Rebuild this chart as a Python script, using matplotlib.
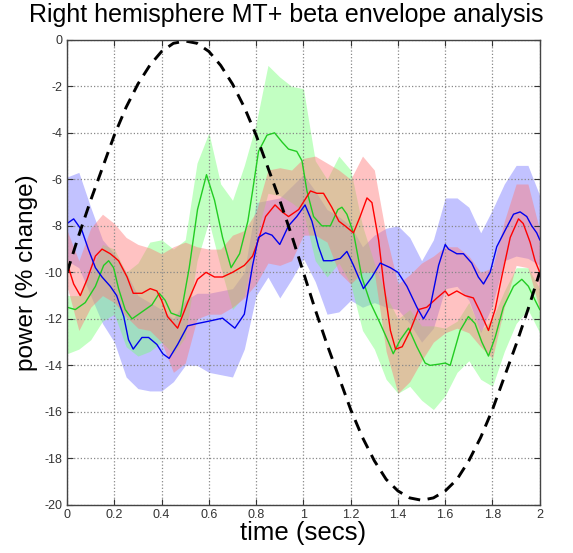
import numpy as np
import matplotlib
matplotlib.use("Agg")
import matplotlib.pyplot as plt

plt.rcParams["font.family"] = ["Liberation Sans", "DejaVu Sans"]
plt.rcParams["axes.unicode_minus"] = False

# mean time courses
blue_x = [0.00, 0.028, 0.063, 0.09, 0.12, 0.148, 0.183, 0.21, 0.24, 0.26, 0.28, 0.317, 0.345,
          0.38, 0.405, 0.432, 0.468, 0.51, 0.552, 0.60, 0.658, 0.71, 0.75, 0.785, 0.81, 0.84,
          0.867, 0.90, 0.937, 0.972, 1.007, 1.036, 1.064, 1.085, 1.12, 1.156, 1.184, 1.212,
          1.254, 1.29, 1.325, 1.368, 1.40, 1.438, 1.48, 1.508, 1.536, 1.572, 1.60, 1.614,
          1.649, 1.677, 1.712, 1.74, 1.762, 1.79, 1.818, 1.853, 1.889, 1.917, 1.945, 1.966,
          1.987, 2.0]
blue_y = [-7.9, -7.7, -8.2, -9.0, -9.8, -10.2, -10.6, -11.0, -11.9, -12.9, -13.3, -12.8, -12.8,
          -13.1, -13.5, -13.7, -13.1, -12.3, -12.2, -12.1, -11.97, -12.4, -11.8, -9.7, -8.5, -8.3,
          -8.4, -8.8, -8.0, -7.6, -7.1, -7.8, -8.9, -9.5, -9.5, -9.4, -9.1, -9.7,
          -10.7, -10.2, -9.6, -9.8, -10.0, -10.6, -11.5, -12.0, -11.5, -9.7, -8.8, -9.0,
          -9.2, -9.2, -9.6, -10.2, -10.5, -10.0, -8.9, -8.2, -7.5, -7.4, -7.6, -8.0,
          -8.3, -8.6]

red_x = [0.00, 0.028, 0.056, 0.085, 0.12, 0.148, 0.183, 0.218, 0.254, 0.28, 0.317, 0.352, 0.38,
         0.40, 0.425, 0.468, 0.51, 0.552, 0.588, 0.624, 0.658, 0.70, 0.75, 0.785, 0.81, 0.84,
         0.88, 0.91, 0.937, 0.98, 1.03, 1.057, 1.085, 1.12, 1.15, 1.176, 1.212, 1.24, 1.269,
         1.29, 1.318, 1.34, 1.368, 1.39, 1.418, 1.452, 1.487, 1.522, 1.565, 1.60, 1.614, 1.649,
         1.684, 1.719, 1.748, 1.783, 1.811, 1.839, 1.875, 1.91, 1.93, 1.959, 1.98, 2.0]
red_y = [-9.6, -10.5, -11.0, -10.3, -9.3, -9.0, -9.2, -9.5, -10.2, -10.9, -10.9, -10.7, -10.8,
         -11.2, -11.9, -12.4, -11.3, -10.3, -10.0, -10.2, -10.2, -10.0, -9.7, -9.3, -8.6, -7.6,
         -7.1, -7.4, -7.6, -7.3, -6.5, -6.6, -6.6, -7.2, -7.8, -8.0, -8.3, -7.6, -6.8,
         -7.0, -8.6, -10.5, -12.5, -13.3, -13.2, -12.5, -11.6, -11.5, -11.1, -10.8, -11.0, -10.8,
         -11.0, -11.1, -11.7, -12.5, -11.6, -10.2, -8.5, -7.7, -7.9, -8.7, -9.5, -10.0]

green_x = [0.00, 0.035, 0.077, 0.12, 0.155, 0.176, 0.197, 0.218, 0.246, 0.275, 0.317, 0.359,
           0.39, 0.415, 0.44, 0.48, 0.517, 0.552, 0.59, 0.624, 0.658, 0.694, 0.73, 0.765, 0.785,
           0.81, 0.846, 0.878, 0.91, 0.937, 0.972, 0.994, 1.015, 1.043, 1.078, 1.114, 1.146,
           1.163, 1.184, 1.212, 1.247, 1.283, 1.325, 1.36, 1.38, 1.41, 1.445, 1.48, 1.515,
           1.536, 1.572, 1.60, 1.621, 1.663, 1.698, 1.726, 1.755, 1.783, 1.811, 1.846, 1.889,
           1.924, 1.952, 1.98, 2.0]
green_y = [-11.5, -11.6, -11.3, -10.6, -9.7, -9.5, -9.8, -10.7, -11.6, -12.0, -11.7, -11.4,
           -10.9, -11.2, -11.75, -11.9, -9.8, -7.3, -5.8, -6.9, -8.5, -9.8, -9.2, -7.8, -6.5,
           -4.8, -4.1, -4.0, -4.4, -4.7, -4.8, -5.2, -6.5, -7.6, -8.0, -8.0, -7.3,
           -7.2, -7.5, -8.3, -10.2, -11.3, -12.2, -13.0, -13.5, -12.9, -12.4, -13.2, -13.9,
           -14.0, -13.95, -13.9, -14.0, -12.5, -11.9, -12.2, -13.0, -13.6, -12.8, -11.5, -10.6,
           -10.3, -10.6, -11.2, -11.6]

# confidence bands, sampled every 0.05 s
band_x = [round(0.05 * i, 2) for i in range(41)]
blue_hi = [-5.9, -5.7, -7.2, -8.6, -9.2, -10.0, -11.0, -11.3, -11.6, -12.0, -11.2, -10.9, -10.9,
           -10.8, -10.7, -10.0, -7.0, -6.9, -6.8, -6.3, -5.8, -6.5, -7.3, -7.6, -8.0, -8.9,
           -8.4, -8.1, -8.0, -8.5, -9.5, -8.6, -6.8, -6.8, -7.2, -8.3, -7.3, -6.2, -5.4, -5.4, -6.7]
blue_lo = [-9.5, -9.8, -11.0, -12.2, -13.0, -14.5, -15.0, -15.1, -15.1, -14.7, -14.0, -14.0, -14.3,
           -14.4, -14.5, -13.3, -11.0, -10.2, -11.1, -10.3, -9.4, -10.4, -11.8, -11.7, -11.2, -11.5,
           -11.3, -11.5, -11.6, -12.2, -13.0, -12.4, -10.7, -10.6, -11.2, -12.6, -11.4, -9.5, -9.3,
           -9.4, -9.7]
red_hi = [-8.2, -9.5, -8.1, -7.5, -7.9, -8.5, -8.8, -8.95, -9.2, -8.9, -8.7, -8.9, -9.0,
          -9.0, -8.4, -8.2, -7.4, -5.6, -5.5, -5.6, -5.1, -5.0, -5.3, -5.6, -6.0, -5.0,
          -5.6, -8.4, -10.5, -10.1, -9.6, -9.3, -8.9, -8.9, -9.3, -10.0, -9.8, -7.8, -6.2, -6.2, -8.2]
red_lo = [-10.6, -12.5, -11.5, -11.0, -11.3, -11.9, -12.4, -12.5, -13.0, -14.3, -13.9, -12.0, -11.8,
          -11.8, -11.5, -11.1, -10.5, -9.6, -9.7, -9.5, -8.4, -8.4, -8.7, -10.0, -10.5, -10.0,
          -10.0, -13.4, -15.2, -14.7, -13.8, -13.0, -12.6, -12.4, -12.6, -13.2, -13.7, -11.5, -9.7,
          -9.8, -11.6]
green_hi = [-11.0, -11.0, -10.0, -8.8, -9.0, -10.0, -9.6, -8.7, -8.6, -9.0, -8.6, -5.3, -4.0,
            -6.2, -6.9, -5.4, -3.6, -1.1, -1.6, -2.0, -2.1, -5.2, -6.0, -5.0, -5.6, -8.0,
            -9.6, -11.0, -12.0, -11.6, -12.3, -12.3, -12.4, -12.1, -11.3, -12.5, -12.0, -10.8, -9.8,
            -9.8, -10.7]
green_lo = [-13.5, -13.3, -12.9, -12.1, -11.8, -13.2, -13.6, -13.4, -13.0, -13.5, -12.8, -9.5, -7.8,
            -9.8, -11.6, -11.0, -8.5, -6.6, -6.7, -7.0, -7.4, -9.5, -10.2, -9.6, -10.5, -12.5,
            -13.3, -14.6, -15.2, -14.9, -15.5, -15.9, -15.3, -14.3, -13.8, -14.6, -14.9, -13.4, -12.2,
            -11.6, -12.6]

# stimulus (dashed), sampled every 0.05 s
stim_y = [-10, -8.4, -6.9, -5.5, -4.1, -2.9, -1.9, -1.1, -0.5, -0.15, -0.05, -0.15, -0.5, -1.1,
          -1.9, -2.9, -4.1, -5.5, -6.9, -8.4, -10, -11.6, -13.1, -14.5, -15.9, -17.1, -18.1,
          -18.9, -19.4, -19.7, -19.8, -19.7, -19.4, -18.9, -18.1, -17.1, -15.9, -14.5, -13.1,
          -11.6, -10]

xticks = np.arange(0, 2.01, 0.2)
xtick_labels = ["0", "0.2", "0.4", "0.6", "0.8", "1", "1.2", "1.4", "1.6", "1.8", "2"]
yticks = np.arange(-20, 1, 2)

fig = plt.figure(figsize=(5.73, 5.53), dpi=100)
ax = fig.add_axes([0.117, 0.087, 0.825, 0.841])

ax.fill_between(band_x, blue_lo, blue_hi, color="#7878ff", alpha=0.45, lw=0)
ax.fill_between(band_x, green_lo, green_hi, color="#78ff78", alpha=0.45, lw=0)
ax.fill_between(band_x, red_lo, red_hi, color="#ff7878", alpha=0.45, lw=0)

ax.plot(green_x, green_y, color="#22cc22", lw=1.0)
ax.plot(red_x, red_y, color="#ff0000", lw=1.0)
ax.plot(blue_x, blue_y, color="#0000ee", lw=1.0)
ax.plot(band_x, stim_y, color="black", lw=2.1, ls=(0, (4, 2.6)))

ax.set_xlim(0, 2)
ax.set_ylim(-20, 0)
ax.set_xticks(xticks)
ax.set_xticklabels(xtick_labels)
ax.set_yticks(yticks)
ax.tick_params(direction="in", top=True, right=True, labelsize=9, colors="#333333",
               length=4, pad=3)
ax.grid(True, ls=":", color="#888888", lw=0.9)
for s in ax.spines.values():
    s.set_color("#444444")
    s.set_linewidth(1.0)

fig.text(0.5, 0.972, "Right hemisphere MT+ beta envelope analysis", fontsize=18,
         ha="center", va="center")
ax.set_xlabel("time (secs)", fontsize=18.5, labelpad=0)
ax.set_ylabel("power (% change)", fontsize=17.5, labelpad=5)

fig.savefig("out.png", dpi=100)
